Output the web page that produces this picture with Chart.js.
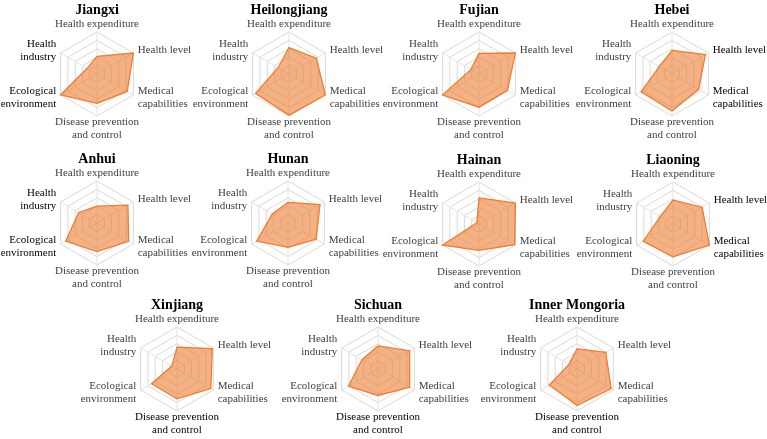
<!DOCTYPE html>
<html>
<head>
<meta charset="utf-8">
<title>Provincial health radar charts</title>
<script src="https://cdn.jsdelivr.net/npm/chart.js@4/dist/chart.umd.min.js"></script>
<style>
  html, body { margin: 0; padding: 0; background: #fff; }
  #wrap { position: relative; width: 767px; height: 439px; overflow: hidden; }
  #wrap canvas { position: absolute; }
</style>
</head>
<body>
<div id="wrap"></div>
<script>
// axis order: top, then clockwise
const axisLabels = [
  'Health expenditure',
  'Health level',
  ['Medical', 'capabilities'],
  ['Disease prevention', 'and control'],
  ['Ecological', 'environment'],
  ['Health', 'industry'],
];

const provinces = ['Jiangxi', 'Heilongjiang', 'Fujian', 'Hebei', 'Anhui', 'Hunan',
  'Hainan', 'Liaoning', 'Xinjiang', 'Sichuan', 'Inner Mongoria'];

// relative scores (0-1), same order as axisLabels
const jiangxi = [0.42, 1.00, 0.83, 0.70, 1.00, 0.27];
const heilongjiang = [0.63, 0.75, 1.00, 0.98, 0.92, 0.30];
const fujian = [0.49, 1.00, 0.78, 0.79, 1.00, 0.22];
const hebei = [0.56, 0.92, 0.73, 0.88, 0.85, 0.35];
const anhui = [0.40, 0.85, 0.87, 0.68, 0.86, 0.50];
const hunan = [0.49, 0.88, 0.77, 0.58, 0.86, 0.43];
const hainan = [0.62, 1.00, 0.98, 0.63, 1.00, 0.06];
const liaoning = [0.57, 0.80, 1.00, 0.78, 0.82, 0.35];
const xinjiang = [0.52, 0.97, 0.93, 0.71, 0.70, 0.14];
const sichuan = [0.55, 0.87, 0.87, 0.63, 0.81, 0.44];
const innerMongoria = [0.48, 0.79, 0.94, 0.87, 0.76, 0.22];

const series = [jiangxi, heilongjiang, fujian, hebei, anhui, hunan,
  hainan, liaoning, xinjiang, sichuan, innerMongoria];

// axis labels printed in black instead of grey
const darkLabels = [[4, 5], [], [], [1, 2], [4, 5], [], [], [1, 2], [3], [3], [3]];

// hexagon centres on the page
const slots = [
  [97, 74], [289, 74], [479, 74], [672, 74],
  [97, 223], [288, 223], [479, 224], [673, 224],
  [177, 369], [378, 369], [577, 369],
];

const W = 260, H = 150, CY = 72, LINE = 13;
const serif = "'Liberation Serif', 'Times New Roman', serif";
const wrap = document.getElementById('wrap');

// axis names, centred on the side vertices like the original
const axisTitles = {
  id: 'axisTitles',
  afterDraw(chart, args, opts) {
    const scale = chart.scales.r;
    const ctx = chart.ctx;
    const r = scale.drawingArea;
    ctx.save();
    ctx.font = '11px ' + serif;
    ctx.textBaseline = 'middle';
    chart.data.labels.forEach((label, i) => {
      const lines = [].concat(label);
      const pad = i === 0 ? 1 : (i === 3 ? 0 : 5);
      const p = scale.getPointPosition(i, r + pad);
      let y0;
      if (i === 0) {
        ctx.textAlign = 'center';
        y0 = p.y - LINE * (lines.length - 0.5);
      } else if (i === 3) {
        ctx.textAlign = 'center';
        y0 = p.y + LINE / 2;
      } else {
        ctx.textAlign = i < 3 ? 'left' : 'right';
        y0 = p.y - LINE * (lines.length - 1) / 2;
      }
      ctx.fillStyle = opts.dark.includes(i) ? '#000' : '#404040';
      lines.forEach((t, k) => ctx.fillText(t, p.x, y0 + k * LINE));
    });
    ctx.restore();
  },
};

provinces.forEach((name, i) => {
  const canvas = document.createElement('canvas');
  canvas.width = W;
  canvas.height = H;
  canvas.style.left = (slots[i][0] - W / 2) + 'px';
  canvas.style.top = (slots[i][1] - CY) + 'px';
  wrap.appendChild(canvas);

  new Chart(canvas, {
    type: 'radar',
    data: {
      labels: axisLabels,
      datasets: [{
        data: series[i],
        backgroundColor: 'rgba(237, 125, 49, 0.6)',
        borderColor: '#ED7D31',
        borderWidth: 1.3,
        pointRadius: 0,
        pointHoverRadius: 0,
        fill: true,
      }],
    },
    options: {
      responsive: false,
      animation: false,
      events: [],
      layout: { padding: { top: 0, left: 0, right: 0, bottom: 36 } },
      plugins: {
        legend: { display: false },
        tooltip: { enabled: false },
        title: {
          display: true,
          text: name,
          color: '#000',
          font: { family: serif, size: 14, weight: 'bold', lineHeight: 1.2 },
          padding: { top: 0, bottom: 13.2 },
        },
        axisTitles: { dark: darkLabels[i] },
      },
      scales: {
        r: {
          min: 0,
          max: 1,
          ticks: { display: false, stepSize: 0.2 },
          grid: { color: '#d9d9d9', lineWidth: 1 },
          angleLines: { color: '#e3e3e3', lineWidth: 1 },
          pointLabels: { display: false },
        },
      },
    },
    plugins: [axisTitles],
  });
});
</script>
</body>
</html>
